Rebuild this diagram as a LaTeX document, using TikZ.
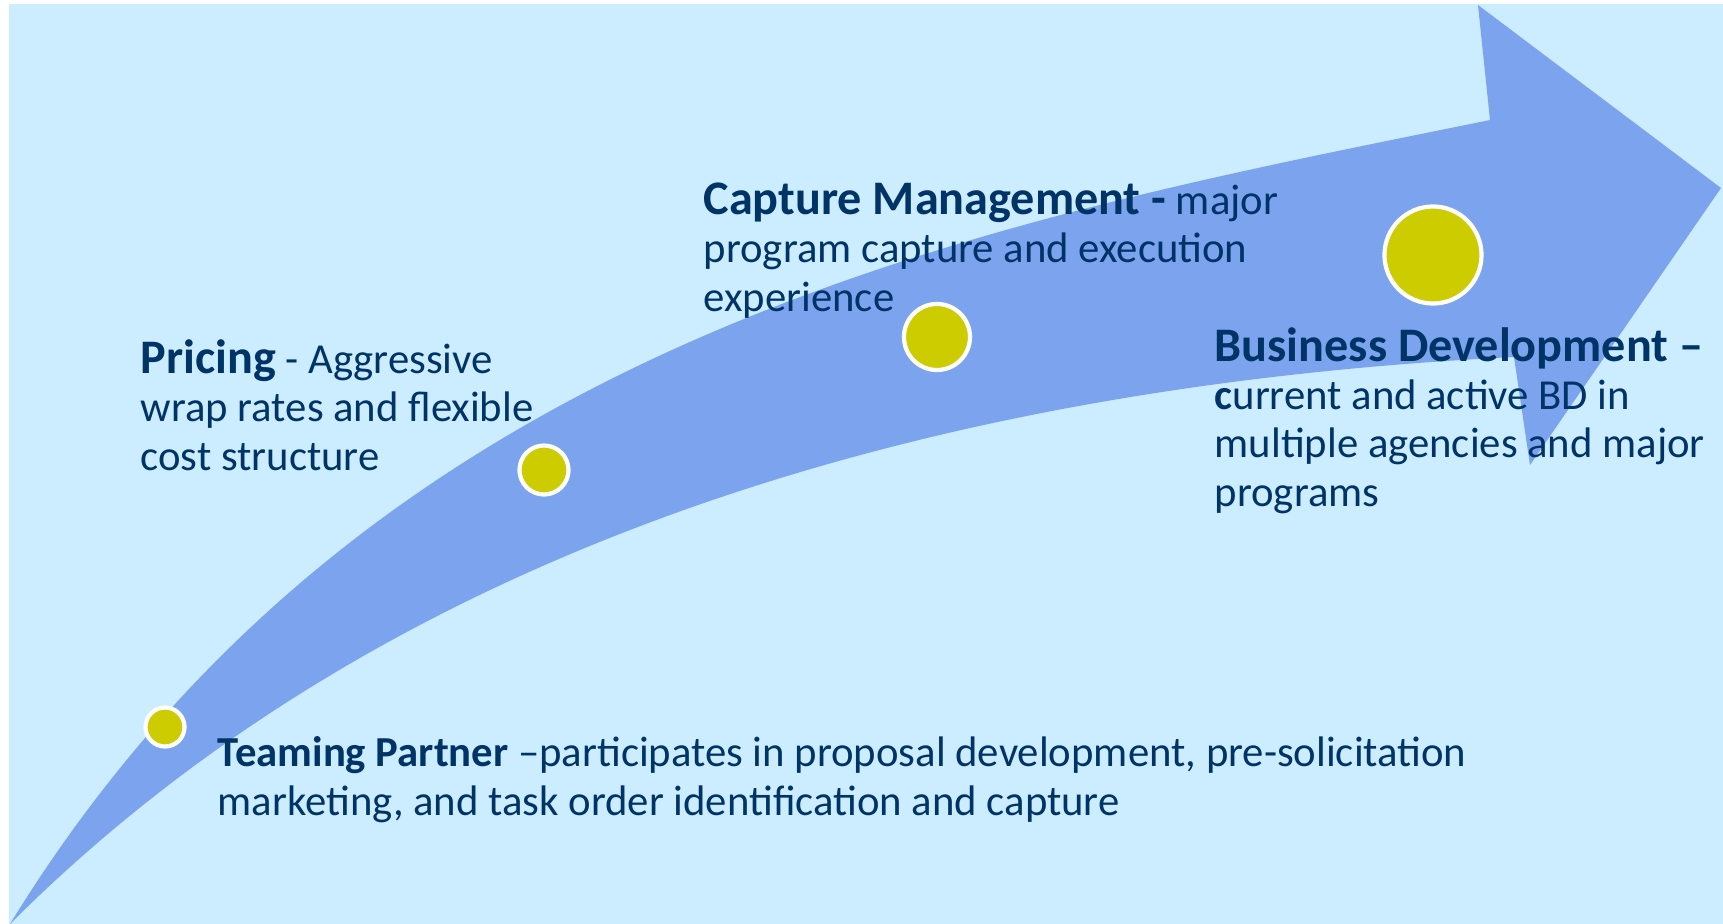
\documentclass[tikz,border=0pt]{standalone}
\usepackage{fontspec}
\setmainfont{Carlito}
\definecolor{sky}{RGB}{204,236,255}
\definecolor{band}{RGB}{123,163,238}
\definecolor{dotyellow}{RGB}{204,204,0}
\definecolor{textblue}{RGB}{0,51,102}
\newcommand{\headtxt}[1]{{\fontsize{13.7}{13.7}\selectfont\bfseries #1}}

\tikzstyle{dot}=[circle,fill=dotyellow,draw=white,line width=1.2pt,inner sep=0pt]
\tikzstyle{note}=[anchor=base west,align=left,inner sep=0pt,text=textblue,font=\fontsize{12.15}{13.7}\selectfont]

\begin{document}
\begin{tikzpicture}[x=0.01cm,y=-0.01cm]
    \useasboundingbox (0,0) rectangle (1723,924);
    %Background
    \fill[sky] (9,4) rectangle (1723,924);
    %Arrow
    \fill[band] (10,924) .. controls (376,328) and (1000,220) .. (1490,120)
        -- (1478,5) -- (1721,188) -- (1530,465) -- (1514,357)
        .. controls (814,392) and (328,606) .. (10,924) -- cycle;
    %Dots
    \foreach \pos/\name/\size in {{(165,727)/team/0.39cm}, {(544,470)/price/0.49cm},
                                  {(937,337)/capture/0.66cm}, {(1433,255)/bd/0.97cm}}
    \node[dot,minimum size=\size] (\name) at \pos {};
    %Texts (anchored on their last line)
    \node[note] (pricetxt) at (140,470) {\headtxt{Pricing} - Aggressive\\wrap rates and flexible\\cost structure};
    \node[note] (capturetxt) at (703,311) {\headtxt{Capture Management -} major\\program capture and execution\\experience};
    \node[note] (bdtxt) at (1214,506) {\headtxt{Business Development –}\\\textbf{c}urrent and active BD in\\multiple agencies and major\\programs};
    \node[note] (teamtxt) at (217,815) {\textbf{Teaming Partner} –participates in proposal development, pre-solicitation\\marketing, and task order identification and capture};
\end{tikzpicture}
\end{document}
